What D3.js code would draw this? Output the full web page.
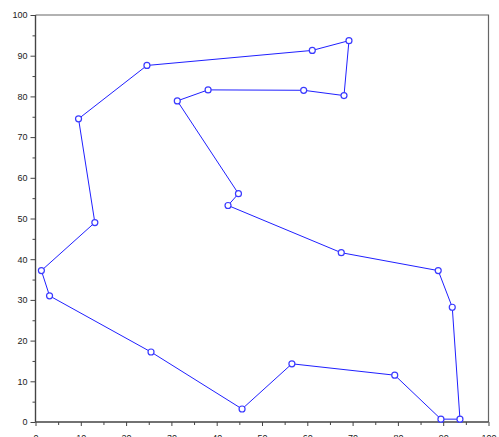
<!DOCTYPE html>
<html>
<head>
<meta charset="utf-8">
<script src="https://cdn.jsdelivr.net/npm/d3@7"></script>
<style>
body { margin: 0; background: #fff; }
svg { display: block; }
text { font-family: "Liberation Sans", Arial, sans-serif; }
</style>
</head>
<body>
<svg id="chart" width="499" height="437"></svg>
<script>
const xValues = [45.6, 56.6, 79.3, 89.5, 93.7, 92.0, 88.9, 67.5, 42.5, 44.8, 31.3, 38.1, 59.2, 68.1, 69.2, 61.1, 24.6, 9.5, 13.1, 1.3, 3.1, 25.5];
const yValues = [3.2, 14.3, 11.5, 0.7, 0.7, 28.2, 37.2, 41.6, 53.2, 56.1, 78.9, 81.6, 81.5, 80.2, 93.7, 91.3, 87.6, 74.5, 49.0, 37.2, 31.0, 17.2];
const majorTicks = [0, 10, 20, 30, 40, 50, 60, 70, 80, 90, 100];
const minorTicks = [5, 15, 25, 35, 45, 55, 65, 75, 85, 95];

const svg = d3.select("#chart");
const x = d3.scaleLinear().domain([0, 100]).range([35.5, 488.5]);
const y = d3.scaleLinear().domain([0, 100]).range([422, 15]);

const axisColor = "#444";

// top & right border
svg.append("path")
  .attr("d", `M${x(0)},${y(100)}H${x(100)}V${y(0)}`)
  .attr("fill", "none").attr("stroke", "#666").attr("stroke-width", 1.2);

// X axis
const gx = svg.append("g").attr("transform", `translate(0,${y(0)})`);
gx.call(d3.axisBottom(x).tickValues(majorTicks).tickSize(4).tickPadding(9).tickFormat(d3.format("d")));
gx.append("g").call(d3.axisBottom(x).tickValues(minorTicks).tickSize(3).tickFormat(""));
// Y axis
const gy = svg.append("g").attr("transform", `translate(${x(0)},0)`);
gy.call(d3.axisLeft(y).tickValues(majorTicks).tickSize(5).tickPadding(3).tickFormat(d3.format("d")));
gy.append("g").call(d3.axisLeft(y).tickValues(minorTicks).tickSize(3).tickFormat(""));

svg.selectAll(".domain").attr("stroke", axisColor).attr("stroke-width", 1.2);
svg.selectAll(".tick line").attr("stroke", axisColor);
svg.selectAll(".tick text").attr("fill", "#222").style("font-size", "9px");
gx.selectAll(".domain").attr("d", `M${x(0)},0H${x(100)}`);
gy.selectAll(".domain").attr("d", `M0,${y(0)}V${y(100)}`);

const pts = xValues.map((v, i) => [v, yValues[i]]);
const line = d3.line().x(d => x(d[0])).y(d => y(d[1])).curve(d3.curveLinearClosed);
svg.append("path").datum(pts)
  .attr("d", line)
  .attr("fill", "none").attr("stroke", "#2020ff").attr("stroke-width", 1);

svg.selectAll("circle.pt").data(pts).enter().append("circle")
  .attr("class", "pt")
  .attr("cx", d => x(d[0])).attr("cy", d => y(d[1]))
  .attr("r", 3)
  .attr("fill", "#fff").attr("stroke", "#3a3aff").attr("stroke-width", 1.2);
</script>
</body>
</html>
